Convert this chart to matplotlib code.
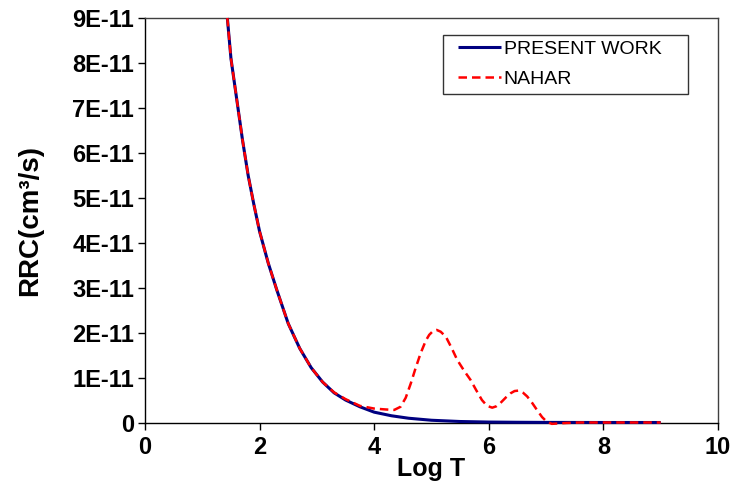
import matplotlib
matplotlib.use("Agg")
import matplotlib.pyplot as plt
from matplotlib.lines import Line2D
from matplotlib.legend_handler import HandlerLine2D

# ---- data (y in units of 1E-11 cm^3/s) ----
present_x = [1.437, 1.50, 1.60, 1.70, 1.80, 1.90, 2.00, 2.15, 2.30, 2.50, 2.70,
             2.90, 3.10, 3.30, 3.50, 3.75, 4.00, 4.30, 4.60, 5.00, 5.50, 6.00,
             6.50, 7.00, 8.00, 9.00]
present_y = [9.0, 8.1, 7.2, 6.3, 5.5, 4.85, 4.25, 3.55, 2.95, 2.2, 1.65,
             1.22, 0.9, 0.66, 0.5, 0.35, 0.23, 0.15, 0.095, 0.05, 0.022, 0.01,
             0.005, 0.002, 0.0, 0.0]

nahar_x = [1.437, 1.50, 1.60, 1.70, 1.80, 1.90, 2.00, 2.15, 2.30, 2.50, 2.70,
           2.90, 3.10, 3.30, 3.50, 3.75, 4.00, 4.20, 4.35, 4.46, 4.55, 4.64,
           4.72, 4.81, 4.90, 4.96, 5.03, 5.09, 5.16, 5.25, 5.35, 5.45, 5.57,
           5.68, 5.78, 5.88, 5.97, 6.06, 6.13, 6.20, 6.30, 6.38, 6.45, 6.52,
           6.60, 6.67, 6.76, 6.84, 6.93, 7.01, 7.10, 7.36, 7.60, 8.00, 9.00]
nahar_y = [9.0, 8.1, 7.2, 6.3, 5.5, 4.85, 4.25, 3.55, 2.95, 2.2, 1.65,
           1.22, 0.9, 0.67, 0.52, 0.37, 0.31, 0.29, 0.28, 0.35, 0.55, 0.875,
           1.2, 1.54, 1.82, 1.95, 2.04, 2.06, 2.02, 1.91, 1.66, 1.39, 1.15,
           0.95, 0.72, 0.50, 0.37, 0.33, 0.36, 0.43, 0.56, 0.65, 0.70, 0.71,
           0.66, 0.58, 0.43, 0.28, 0.12, 0.02, -0.03, -0.01, 0.0, 0.0, 0.0]

x_ticks = [0, 2, 4, 6, 8, 10]
y_ticks = [0, 1, 2, 3, 4, 5, 6, 7, 8, 9]
y_tick_labels = ["0", "1E-11", "2E-11", "3E-11", "4E-11", "5E-11",
                 "6E-11", "7E-11", "8E-11", "9E-11"]

plt.rcParams['font.family'] = ['Liberation Sans', 'DejaVu Sans']

fig = plt.figure(figsize=(7.33, 4.83), dpi=100)
ax = fig.add_axes([145/733, 1 - 422.5/483, (718-145)/733, (422.5-18)/483])

ax.plot(present_x, present_y, color='#000080', lw=2.2, solid_capstyle='butt',
        label='PRESENT WORK', clip_on=False, zorder=3)
ax.plot(nahar_x, nahar_y, color='#FF0000', lw=1.8, dashes=(3.4, 2.0),
        label='NAHAR', clip_on=False, zorder=4)

ax.set_xlim(0, 10)
ax.set_ylim(0, 9)
ax.set_xticks(x_ticks)
ax.set_xticklabels([str(t) for t in x_ticks])
ax.set_yticks(y_ticks)
ax.set_yticklabels(y_tick_labels)
ax.tick_params(direction='out', length=5, width=1, colors='black',
               labelsize=17)
for lbl in ax.get_xticklabels() + ax.get_yticklabels():
    lbl.set_fontweight('bold')
ax.tick_params(axis='y', pad=3)
ax.tick_params(axis='x', pad=5)

for s in ax.spines.values():
    s.set_linewidth(1.0)
    s.set_color('black')
ax.spines['top'].set_color('#404040')
ax.spines['right'].set_color('#404040')

ax.set_xlabel('Log T', fontsize=18, fontweight='bold', labelpad=-2)
ax.set_ylabel('RRC(cm³/s)', fontsize=20, fontweight='bold', labelpad=21)

x0 = (443 - 145) / 573
w = (688 - 443) / 573
leg = ax.legend(loc='upper left', bbox_to_anchor=(x0, 0.958, w, 0),
                mode='expand', borderaxespad=0, frameon=True, fancybox=False,
                fontsize=14, handlelength=2.7, handletextpad=0.15,
                borderpad=0.27, labelspacing=0.66,
                handler_map={Line2D: HandlerLine2D(xpad=0.5)})
leg.get_frame().set_edgecolor('black')
leg.get_frame().set_linewidth(1.0)

fig.savefig('out.png', dpi=100)
